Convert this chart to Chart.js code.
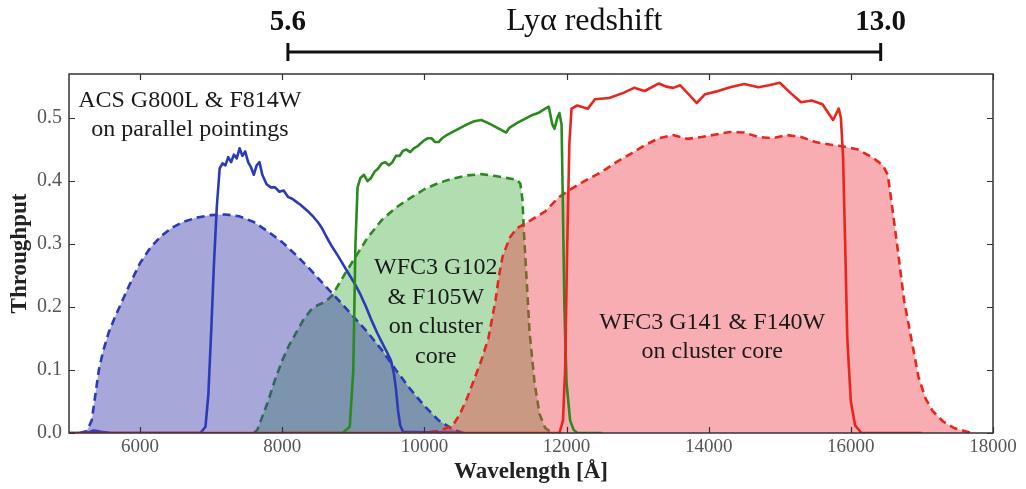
<!DOCTYPE html>
<html>
<head>
<meta charset="utf-8">
<script src="https://cdn.jsdelivr.net/npm/chart.js@4.4.0/dist/chart.umd.min.js"></script>
<style>
  html, body { margin: 0; padding: 0; background: #ffffff; }
  #wrap { width: 1026px; height: 489px; }
</style>
</head>
<body>
<div id="wrap"><canvas id="c" width="1026" height="489"></canvas></div>
<script>
// ---------------- DATA ----------------
const xTickValues = [6000, 8000, 10000, 12000, 14000, 16000, 18000];
const yTickValues = [0.0, 0.1, 0.2, 0.3, 0.4, 0.5];

// ACS (blue) filled, dashed
const acsFillX = [5150, 5250, 5320, 5370, 5420, 5480, 5560, 5650, 5750, 5850, 6000, 6150, 6300, 6450, 6600, 6800, 7000, 7200, 7400, 7600, 7800, 8000, 8200, 8400, 8600, 8800, 9000, 9200, 9400, 9600, 9800, 10000, 10200, 10400, 10550];
const acsFillY = [0, 0.003, 0.02, 0.06, 0.1, 0.13, 0.16, 0.185, 0.21, 0.235, 0.27, 0.295, 0.313, 0.326, 0.335, 0.342, 0.346, 0.347, 0.344, 0.335, 0.32, 0.303, 0.282, 0.259, 0.234, 0.21, 0.185, 0.16, 0.132, 0.1, 0.07, 0.043, 0.02, 0.006, 0];

// ACS (blue) solid
const acsLineX = [5000, 5250, 5350, 5450, 5600, 6850, 6920, 6960, 7000, 7040, 7080, 7120, 7160, 7200, 7240, 7280, 7320, 7360, 7400, 7440, 7480, 7520, 7560, 7600, 7640, 7680, 7720, 7780, 7840, 7900, 7960, 8020, 8080, 8140, 8200, 8260, 8320, 8380, 8440, 8500, 8560, 8620, 8700, 8780, 8860, 8940, 9020, 9100, 9180, 9260, 9340, 9420, 9480, 9530, 9570, 9600, 9630, 9660, 9700, 10500];
const acsLineY = [0, 0, 0.004, 0.002, 0, 0, 0.01, 0.06, 0.16, 0.27, 0.36, 0.42, 0.428, 0.425, 0.438, 0.43, 0.442, 0.436, 0.452, 0.44, 0.447, 0.43, 0.422, 0.41, 0.425, 0.43, 0.41, 0.395, 0.39, 0.39, 0.383, 0.385, 0.375, 0.372, 0.367, 0.362, 0.356, 0.35, 0.343, 0.335, 0.325, 0.312, 0.296, 0.282, 0.267, 0.252, 0.237, 0.22, 0.2, 0.178, 0.158, 0.14, 0.127, 0.115, 0.095, 0.07, 0.035, 0.012, 0.002, 0];

// WFC3 G102 (green) filled, dashed
const g102FillX = [7600, 7650, 7700, 7800, 7900, 8000, 8100, 8200, 8300, 8400, 8500, 8600, 8700, 8800, 8900, 9000, 9200, 9400, 9600, 9800, 10000, 10200, 10400, 10600, 10800, 11000, 11200, 11300, 11350, 11380, 11400, 11430, 11480, 11550, 11620, 11700, 11800];
const g102FillY = [0, 0.005, 0.02, 0.05, 0.085, 0.115, 0.14, 0.16, 0.18, 0.195, 0.203, 0.208, 0.218, 0.237, 0.256, 0.274, 0.31, 0.338, 0.358, 0.373, 0.387, 0.397, 0.404, 0.409, 0.411, 0.408, 0.404, 0.402, 0.396, 0.37, 0.32, 0.26, 0.16, 0.08, 0.03, 0.008, 0];

// WFC3 G102 (green) solid
const g102LineX = [8000, 8850, 8950, 9000, 9030, 9060, 9100, 9150, 9200, 9250, 9300, 9350, 9400, 9450, 9500, 9550, 9600, 9650, 9700, 9750, 9800, 9850, 9900, 9950, 10000, 10050, 10100, 10150, 10200, 10250, 10300, 10400, 10500, 10600, 10700, 10800, 10900, 11000, 11100, 11150, 11200, 11300, 11400, 11500, 11600, 11700, 11750, 11800, 11830, 11870, 11900, 11930, 11950, 11970, 12000, 12050, 12100, 12150, 12500];
const g102LineY = [0, 0, 0.01, 0.1, 0.3, 0.39, 0.405, 0.41, 0.4, 0.405, 0.415, 0.42, 0.428, 0.43, 0.425, 0.43, 0.44, 0.44, 0.448, 0.45, 0.446, 0.452, 0.455, 0.46, 0.465, 0.468, 0.468, 0.462, 0.462, 0.468, 0.472, 0.478, 0.484, 0.49, 0.495, 0.497, 0.492, 0.486, 0.48, 0.477, 0.485, 0.492, 0.498, 0.504, 0.508, 0.515, 0.518, 0.49, 0.483, 0.5, 0.508, 0.49, 0.35, 0.2, 0.08, 0.02, 0.005, 0, 0];

// WFC3 G141 (red) filled, dashed
const g141FillX = [9900, 10200, 10400, 10500, 10600, 10700, 10800, 10900, 11000, 11050, 11100, 11200, 11300, 11500, 11700, 11900, 12100, 12300, 12500, 12700, 12900, 13100, 13300, 13500, 13700, 13900, 14100, 14300, 14500, 14700, 14900, 15100, 15300, 15500, 15700, 15900, 16100, 16300, 16450, 16520, 16580, 16650, 16750, 16850, 16950, 17050, 17150, 17300, 17450, 17700];
const g141FillY = [0, 0.003, 0.012, 0.03, 0.055, 0.085, 0.115, 0.15, 0.21, 0.25, 0.28, 0.31, 0.325, 0.338, 0.352, 0.375, 0.39, 0.403, 0.415, 0.43, 0.443, 0.457, 0.468, 0.473, 0.467, 0.47, 0.474, 0.478, 0.477, 0.47, 0.468, 0.473, 0.47, 0.462, 0.458, 0.455, 0.45, 0.438, 0.425, 0.41, 0.36, 0.3, 0.21, 0.15, 0.09, 0.055, 0.035, 0.018, 0.008, 0];

// WFC3 G141 (red) solid
const g141LineX = [5000, 11900, 11950, 11980, 12010, 12040, 12070, 12150, 12300, 12400, 12600, 12800, 12950, 13100, 13300, 13400, 13500, 13600, 13700, 13830, 13950, 14100, 14300, 14500, 14700, 14850, 15000, 15150, 15300, 15450, 15600, 15750, 15830, 15860, 15890, 15920, 15950, 16000, 16060, 16150, 17000];
const g141LineY = [0, 0, 0.02, 0.1, 0.3, 0.46, 0.515, 0.52, 0.515, 0.53, 0.532, 0.54, 0.548, 0.543, 0.555, 0.55, 0.548, 0.552, 0.54, 0.524, 0.538, 0.542, 0.549, 0.554, 0.549, 0.552, 0.556, 0.54, 0.525, 0.528, 0.522, 0.497, 0.515, 0.5, 0.44, 0.3, 0.15, 0.05, 0.012, 0, 0];

// Lyα redshift bar
const zLabels = ['5.6', '13.0'];
const zWave = [8080, 16420];
const zTitle = 'Lyα redshift';

// annotations (text, x, y in data units)
const noteACS = { lines: ['ACS G800L & F814W', 'on parallel pointings'], x: 6700, y: [0.527, 0.481] };
const noteG102 = { lines: ['WFC3 G102', '& F105W', 'on cluster', 'core'], x: 10160, y: [0.262, 0.215, 0.168, 0.121] };
const noteG141 = { lines: ['WFC3 G141 & F140W', 'on cluster core'], x: 14050, y: [0.175, 0.129] };

// ---------------- BUILD ----------------
const pts = (xs, ys) => xs.map((x, i) => ({ x: x, y: ys[i] }));

const BLUE = '#2b3bb8', GREEN = '#2a8a1e', RED = '#e8261e';

const datasets = [
  { data: pts(g141LineX, g141LineY), borderColor: RED, borderWidth: 2.6, fill: false },
  { data: pts(g102LineX, g102LineY), borderColor: GREEN, borderWidth: 2.6, fill: false },
  { data: pts(acsLineX, acsLineY), borderColor: BLUE, borderWidth: 2.6, fill: false },
  { data: pts(g141FillX, g141FillY), borderColor: RED, borderWidth: 2.6, borderDash: [8, 5], fill: 'origin', backgroundColor: 'rgba(235,60,70,0.42)' },
  { data: pts(acsFillX, acsFillY), borderColor: BLUE, borderWidth: 2.6, borderDash: [8, 5], fill: 'origin', backgroundColor: 'rgba(60,60,170,0.45)' },
  { data: pts(g102FillX, g102FillY), borderColor: GREEN, borderWidth: 2.6, borderDash: [8, 5], fill: 'origin', backgroundColor: 'rgba(60,170,60,0.40)' }
];
datasets.forEach(d => { d.pointRadius = 0; d.tension = 0; d.borderJoinStyle = 'round'; });

const SERIF = "'Liberation Serif', 'DejaVu Serif', serif";

const decor = {
  id: 'decor',
  afterDraw(chart) {
    const ctx = chart.ctx;
    const a = chart.chartArea;
    const xs = chart.scales.x, ys = chart.scales.y;
    ctx.save();
    // frame
    ctx.strokeStyle = '#333';
    ctx.lineWidth = 1.5;
    ctx.strokeRect(a.left, a.top, a.right - a.left, a.bottom - a.top);
    // inward ticks
    ctx.lineWidth = 1.2;
    ctx.beginPath();
    xTickValues.forEach(v => {
      const px = Math.round(xs.getPixelForValue(v)) + 0.5;
      ctx.moveTo(px, a.bottom); ctx.lineTo(px, a.bottom - 6);
      ctx.moveTo(px, a.top); ctx.lineTo(px, a.top + 6);
    });
    yTickValues.forEach(v => {
      const py = Math.round(ys.getPixelForValue(v)) + 0.5;
      ctx.moveTo(a.left, py); ctx.lineTo(a.left + 6, py);
      ctx.moveTo(a.right, py); ctx.lineTo(a.right - 6, py);
    });
    ctx.stroke();

    // axis titles
    ctx.fillStyle = '#222';
    ctx.font = "bold 23px " + SERIF;
    ctx.textAlign = 'center';
    ctx.textBaseline = 'middle';
    ctx.fillText('Wavelength [Å]', (a.left + a.right) / 2, 472);
    ctx.save();
    ctx.translate(20, (a.top + a.bottom) / 2);
    ctx.rotate(-Math.PI / 2);
    ctx.fillText('Throughput', 0, 0);
    ctx.restore();

    // redshift bar
    const x0 = xs.getPixelForValue(zWave[0]);
    const x1 = xs.getPixelForValue(zWave[1]);
    ctx.strokeStyle = '#111';
    ctx.lineWidth = 3;
    ctx.beginPath();
    ctx.moveTo(x0, 52); ctx.lineTo(x1, 52);
    ctx.moveTo(x0, 43); ctx.lineTo(x0, 61);
    ctx.moveTo(x1, 43); ctx.lineTo(x1, 61);
    ctx.stroke();
    ctx.fillStyle = '#111';
    ctx.font = "bold 29px " + SERIF;
    ctx.fillText(zLabels[0], x0, 23);
    ctx.fillText(zLabels[1], x1, 23);
    ctx.font = "32px " + SERIF;
    ctx.fillText(zTitle, (x0 + x1) / 2, 22);

    // notes
    ctx.fillStyle = '#1a1a1a';
    ctx.font = "24px " + SERIF;
    [noteACS, noteG102, noteG141].forEach(n => {
      const px = xs.getPixelForValue(n.x);
      n.lines.forEach((t, i) => ctx.fillText(t, px, ys.getPixelForValue(n.y[i])));
    });
    ctx.restore();
  }
};

new Chart(document.getElementById('c'), {
  type: 'line',
  data: { datasets: datasets },
  options: {
    responsive: false,
    animation: false,
    events: [],
    layout: { padding: { left: 0, right: 33, top: 74, bottom: 0 } },
    plugins: { legend: { display: false }, tooltip: { enabled: false } },
    scales: {
      x: {
        type: 'linear', min: 5000, max: 18000,
        afterBuildTicks: s => { s.ticks = xTickValues.map(v => ({ value: v })); },
        afterFit: s => { s.height = 56; },
        grid: { display: false, drawTicks: false },
        border: { display: false },
        ticks: { color: '#555', padding: 3, maxRotation: 0, autoSkip: false, font: { family: SERIF, size: 19 }, callback: v => String(v) }
      },
      y: {
        type: 'linear', min: 0, max: 0.57,
        afterBuildTicks: s => { s.ticks = yTickValues.map(v => ({ value: v })); },
        afterFit: s => { s.width = 69; },
        grid: { display: false, drawTicks: false },
        border: { display: false },
        ticks: { color: '#555', padding: 7, autoSkip: false, font: { family: SERIF, size: 20 }, callback: v => Number(v).toFixed(1) }
      }
    }
  },
  plugins: [decor]
});
</script>
</body>
</html>
